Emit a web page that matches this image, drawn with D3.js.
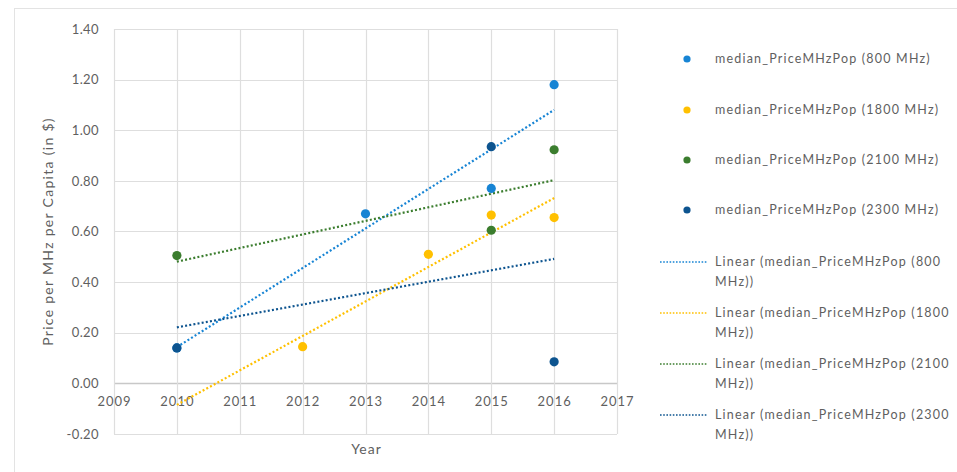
<!DOCTYPE html>
<html>
<head>
<meta charset="utf-8">
<script src="https://cdn.jsdelivr.net/npm/d3@7/dist/d3.min.js"></script>
<style>
  html, body { margin: 0; padding: 0; background: #fff; }
  svg { display: block; font-family: Lato, "Open Sans", "Liberation Sans", sans-serif; }
</style>
</head>
<body>
<svg id="chart" width="957" height="472"></svg>
<script>
// Median price per MHz per capita by spectrum band
const bands = ["800 MHz", "1800 MHz", "2100 MHz", "2300 MHz"];
const colors = ["#1784d4", "#ffc000", "#3b7d2e", "#0d548f"];
const years800 = [2010, 2013, 2015, 2016];
const values800 = [0.14, 0.67, 0.77, 1.18];
const years1800 = [2012, 2014, 2015, 2016];
const values1800 = [0.145, 0.51, 0.665, 0.655];
const years2100 = [2010, 2015, 2016];
const values2100 = [0.505, 0.605, 0.923];
const years2300 = [2010, 2015, 2016];
const values2300 = [0.14, 0.935, 0.085];
const xTicks = [2009, 2010, 2011, 2012, 2013, 2014, 2015, 2016, 2017];
const yTicks = [-0.2, 0, 0.2, 0.4, 0.6, 0.8, 1.0, 1.2, 1.4];
const trendRange = [2010, 2016];

const series = [
  { name: bands[0], years: years800, values: values800, color: colors[0] },
  { name: bands[1], years: years1800, values: values1800, color: colors[1] },
  { name: bands[2], years: years2100, values: values2100, color: colors[2] },
  { name: bands[3], years: years2300, values: values2300, color: colors[3] }
];

const svg = d3.select("#chart");
const plot = { left: 114, right: 617, top: 29, bottom: 434 };

const x = d3.scaleLinear().domain([2009, 2017]).range([plot.left, plot.right]);
const y = d3.scaleLinear().domain([-0.2, 1.4]).range([plot.bottom, plot.top]);

const textColor = "#5f5f5f";
const fmtY = v => d3.format(".2f")(v).replace("\u2212", "-");

// outer chart frame
svg.append("rect")
  .attr("x", 14.5).attr("y", 8.5)
  .attr("width", 960).attr("height", 480)
  .attr("fill", "none").attr("stroke", "#e3e3e3").attr("stroke-width", 1);

// gridlines
const grid = svg.append("g");
grid.selectAll("line.h").data(yTicks).join("line")
  .attr("x1", plot.left).attr("x2", plot.right)
  .attr("y1", d => Math.round(y(d)) + 0.5).attr("y2", d => Math.round(y(d)) + 0.5)
  .attr("stroke", d => d === 0 ? "#c8c8c8" : "#dedede")
  .attr("stroke-width", d => d === 0 ? 1.6 : 1.2);
grid.selectAll("line.v").data(xTicks).join("line")
  .attr("y1", plot.top).attr("y2", plot.bottom)
  .attr("x1", d => Math.round(x(d)) + 0.5).attr("x2", d => Math.round(x(d)) + 0.5)
  .attr("stroke", "#dedede").attr("stroke-width", 1.2);

// y axis tick labels
const yAxis = svg.append("g")
  .attr("transform", `translate(${plot.left - 15},0)`)
  .call(d3.axisLeft(y).tickValues(yTicks).tickFormat(fmtY).tickSize(0).tickPadding(0));
yAxis.select(".domain").remove();
yAxis.selectAll("text").attr("fill", textColor).style("font-size", "13px")
  .style("letter-spacing", "0.4px")
  .attr("font-family", "Lato, 'Open Sans', sans-serif");

// x axis tick labels, sitting on the zero line
const xAxis = svg.append("g")
  .attr("transform", `translate(0,${y(0)})`)
  .call(d3.axisBottom(x).tickValues(xTicks).tickFormat(d3.format("d")).tickSize(0).tickPadding(13));
xAxis.select(".domain").remove();
xAxis.selectAll("text").attr("fill", textColor).style("font-size", "13px")
  .style("letter-spacing", "1px")
  .attr("font-family", "Lato, 'Open Sans', sans-serif");

// axis titles
svg.append("text")
  .attr("x", (plot.left + plot.right) / 2 + 1).attr("y", 454)
  .attr("text-anchor", "middle").attr("fill", textColor).style("font-size", "14px")
  .style("letter-spacing", "1px")
  .text("Year");
svg.append("text")
  .attr("transform", `translate(53,${(plot.top + plot.bottom) / 2}) rotate(-90)`)
  .attr("text-anchor", "middle").attr("fill", textColor).style("font-size", "14px")
  .style("letter-spacing", "1.3px")
  .text("Price per MHz per Capita (in $)");

// least-squares trend for each band
function fit(xs, ys) {
  const mx = d3.mean(xs), my = d3.mean(ys);
  const sxy = d3.sum(xs, (v, i) => (v - mx) * (ys[i] - my));
  const sxx = d3.sum(xs, v => (v - mx) * (v - mx));
  const slope = sxy / sxx;
  return t => my + slope * (t - mx);
}

const trends = svg.append("g");
series.forEach(s => {
  const f = fit(s.years, s.values);
  trends.append("line")
    .attr("x1", x(trendRange[0])).attr("y1", y(f(trendRange[0])))
    .attr("x2", x(trendRange[1])).attr("y2", y(f(trendRange[1])))
    .attr("stroke", s.color).attr("stroke-width", 2.2)
    .attr("stroke-dasharray", "2,2.2");
});

// data points
const pts = svg.append("g");
series.forEach(s => {
  pts.selectAll(null).data(s.years.map((yr, i) => [yr, s.values[i]])).join("circle")
    .attr("cx", d => x(d[0])).attr("cy", d => y(d[1]))
    .attr("r", 4.6).attr("fill", s.color);
});

// legend
const legend = svg.append("g").style("font-size", "12.5px").style("letter-spacing", "1.2px");
const markerRows = [59, 110, 160, 210];
series.forEach((s, i) => {
  legend.append("circle").attr("cx", 687).attr("cy", markerRows[i]).attr("r", 3.6).attr("fill", s.color);
  legend.append("text").attr("x", 715).attr("y", markerRows[i] + 4)
    .attr("fill", textColor)
    .text(`median_PriceMHzPop (${s.name})`);
});
const trendRows = [262, 313, 364, 415];
series.forEach((s, i) => {
  const yy = trendRows[i];
  legend.append("line").attr("x1", 660).attr("x2", 707).attr("y1", yy).attr("y2", yy)
    .attr("stroke", s.color).attr("stroke-width", 1.6).attr("stroke-dasharray", "1.6,1.6");
  const parts = s.name.split(" ");
  legend.append("text").attr("x", 715).attr("y", yy + 4)
    .attr("fill", textColor)
    .text(`Linear (median_PriceMHzPop (${parts[0]}`);
  legend.append("text").attr("x", 715).attr("y", yy + 24)
    .attr("fill", textColor)
    .text(`${parts[1]}))`);
});
</script>
</body>
</html>
